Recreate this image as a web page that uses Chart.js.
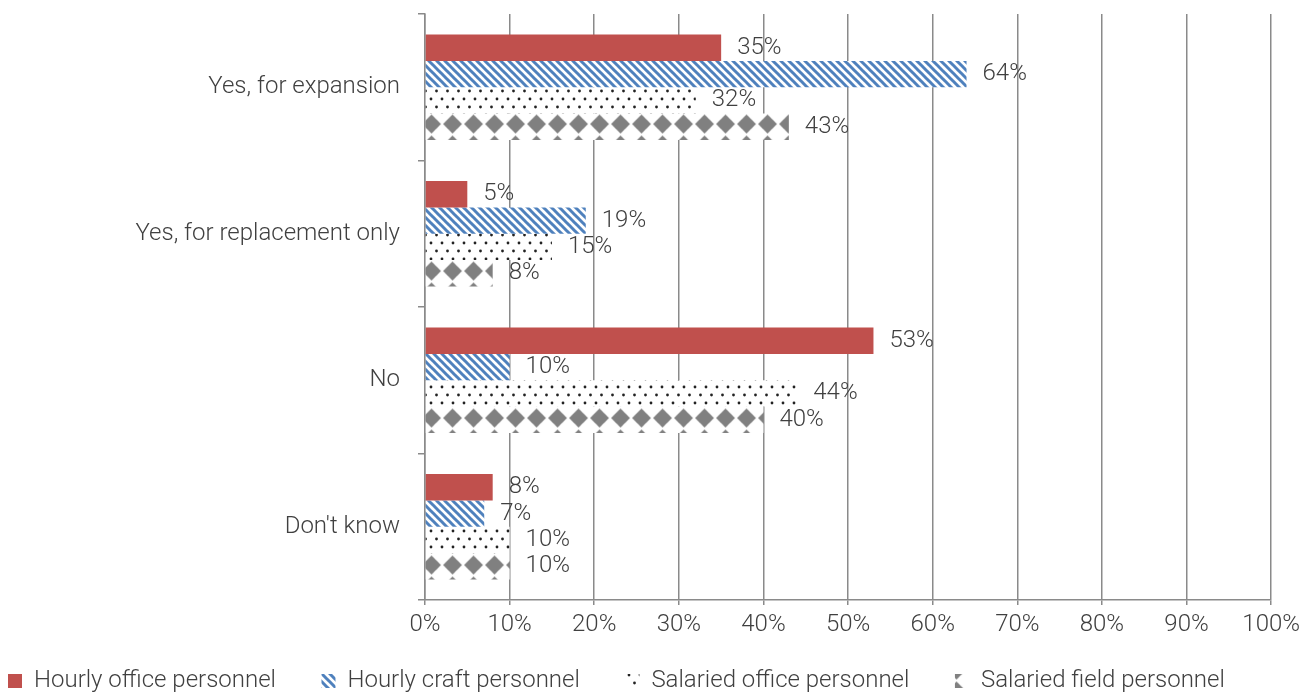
<!DOCTYPE html>
<html>
<head>
<meta charset="utf-8">
<script src="https://cdn.jsdelivr.net/npm/chart.js@4.4.1/dist/chart.umd.min.js"></script>
<style>
  html, body { margin: 0; padding: 0; background: #fff; }
  #wrap { width: 1306px; height: 692px; }
</style>
</head>
<body>
<div id="wrap"><canvas id="chart" width="1306" height="692"></canvas></div>
<script>
const categories = ["Yes, for expansion", "Yes, for replacement only", "No", "Don't know"];
const seriesNames = ["Hourly office personnel", "Hourly craft personnel", "Salaried office personnel", "Salaried field personnel"];
const hourlyOffice = [35, 5, 53, 8];
const hourlyCraft = [64, 19, 10, 7];
const salariedOffice = [32, 15, 44, 10];
const salariedField = [43, 8, 40, 10];
const xTicks = [0, 10, 20, 30, 40, 50, 60, 70, 80, 90, 100];

const textColor = "#404040";
const gridColor = "#8a8a8a";
const fontFamily = "Roboto, 'Open Sans', sans-serif";
const font = { family: fontFamily, size: 24, weight: "300" };

function makeTile(w, h, draw) {
  const c = document.createElement("canvas");
  c.width = w;
  c.height = h;
  const g = c.getContext("2d");
  g.fillStyle = "#fff";
  g.fillRect(0, 0, w, h);
  draw(g);
  return c;
}

const ctx = document.getElementById("chart").getContext("2d");

const stripeTile = makeTile(8, 8, g => {
  g.strokeStyle = "#4f81bd";
  g.lineWidth = 3;
  for (let k = -8; k <= 8; k += 8) {
    g.beginPath();
    g.moveTo(-1, k - 1);
    g.lineTo(9, k + 9);
    g.stroke();
  }
});

const dotTile = makeTile(11, 16, g => {
  g.fillStyle = "#222";
  [[2, 3], [7.5, 11]].forEach(([x, y]) => {
    g.beginPath();
    g.arc(x, y, 1.4, 0, Math.PI * 2);
    g.fill();
  });
});

const diamondTile = makeTile(21, 21, g => {
  g.fillStyle = "#808080";
  g.beginPath();
  g.moveTo(10.5, 1);
  g.lineTo(20, 10.5);
  g.lineTo(10.5, 20);
  g.lineTo(1, 10.5);
  g.closePath();
  g.fill();
});

const diamonds = ctx.createPattern(diamondTile, "repeat");
diamonds.setTransform(new DOMMatrix().translate(1, 8.5));

const fills = [
  "#c0504d",
  ctx.createPattern(stripeTile, "repeat"),
  ctx.createPattern(dotTile, "repeat"),
  diamonds
];
const seriesValues = [hourlyOffice, hourlyCraft, salariedOffice, salariedField];

// value labels just past the end of each bar
const barLabels = {
  id: "barLabels",
  afterDatasetsDraw(chart) {
    const c = chart.ctx;
    c.save();
    c.font = "300 24px " + fontFamily;
    c.fillStyle = textColor;
    c.textAlign = "left";
    c.textBaseline = "middle";
    chart.data.datasets.forEach((ds, i) => {
      chart.getDatasetMeta(i).data.forEach((bar, j) => {
        c.fillText(ds.data[j] + "%", bar.x + 16, bar.y);
      });
    });
    c.restore();
  }
};

new Chart(ctx, {
  type: "bar",
  data: {
    labels: categories,
    datasets: seriesNames.map((name, i) => ({
      label: name,
      data: seriesValues[i],
      backgroundColor: fills[i],
      borderWidth: 0,
      categoryPercentage: 0.72,
      barPercentage: 1
    }))
  },
  options: {
    indexAxis: "y",
    responsive: false,
    animation: false,
    devicePixelRatio: 1,
    layout: { padding: { top: 14, right: 10, bottom: -11, left: 0 } },
    plugins: {
      tooltip: { enabled: false },
      legend: {
        position: "bottom",
        align: "start",
        labels: {
          boxWidth: 14,
          boxHeight: 14,
          padding: 8,
          color: textColor,
          font: font,
          generateLabels(chart) {
            return chart.data.datasets.map((ds, i) => ({
              text: ds.label + "\u00a0\u00a0\u00a0\u00a0\u00a0\u00a0\u200a",
              fillStyle: ds.backgroundColor,
              strokeStyle: ds.backgroundColor,
              lineWidth: 0,
              fontColor: textColor,
              datasetIndex: i
            }));
          }
        }
      }
    },
    scales: {
      x: {
        min: 0,
        max: 100,
        afterBuildTicks(scale) {
          scale.ticks = xTicks.map(v => ({ value: v }));
        },
        afterFit(scale) { scale.height = 61; },
        ticks: {
          color: textColor,
          font: font,
          padding: 6,
          callback: v => v + "%"
        },
        grid: { color: gridColor, lineWidth: 1.5, tickLength: 5 },
        border: { color: gridColor, width: 1.5 }
      },
      y: {
        afterFit(scale) {
          scale.width = 425;
          scale.paddingTop = 0;
          scale.paddingBottom = 0;
        },
        ticks: {
          color: textColor,
          font: font,
          padding: 18
        },
        grid: {
          offset: true,
          drawOnChartArea: false,
          color: gridColor,
          lineWidth: 1.5,
          tickLength: 7
        },
        border: { color: gridColor, width: 1.5 }
      }
    }
  },
  plugins: [barLabels]
});
</script>
</body>
</html>
